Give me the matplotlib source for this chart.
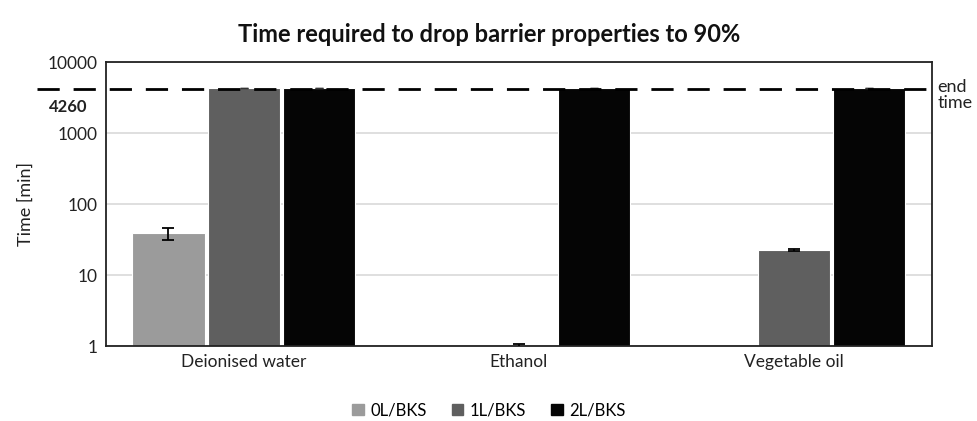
import numpy as np
import matplotlib
matplotlib.use('Agg')
import matplotlib.pyplot as plt
import matplotlib.transforms as mtransforms

plt.rcParams['font.family'] = ['Lato', 'DejaVu Sans']

# 데이터
media = ['Deionised water', 'Ethanol', 'Vegetable oil']
series = ['0L/BKS', '1L/BKS', '2L/BKS']
values = {
    '0L/BKS': [39, np.nan, np.nan],
    '1L/BKS': [4300, 1.0, 22.5],
    '2L/BKS': [4300, 4300, 4300],
}
errors = {
    '0L/BKS': [7.5, 0, 0],
    '1L/BKS': [25, 0.08, 0.5],
    '2L/BKS': [25, 25, 25],
}
colors = ['#9b9b9b', '#5f5f5f', '#050505']
endTime = 4260

fig = plt.figure(figsize=(9.78, 4.21), dpi=100)
ax = fig.add_axes([0.1084, 0.178, 0.8443, 0.674])

x = np.arange(len(media))
w = 0.262
step = 0.273
for i, s in enumerate(series):
    pos = x + (i - 1) * step
    v = np.array(values[s], dtype=float)
    ax.bar(pos, v, width=w, color=colors[i], edgecolor='white', linewidth=0.8, zorder=2)
    big = v > 1000
    # 큰 막대는 작은 캡만 보인다
    ax.errorbar(pos[big], v[big], yerr=np.array(errors[s])[big], fmt='none', ecolor='#333333',
                elinewidth=1.0, capsize=3, capthick=1.0, zorder=3)
    ax.errorbar(pos[~big], v[~big], yerr=np.array(errors[s])[~big], fmt='none', ecolor='black',
                elinewidth=1.3, capsize=4, capthick=1.3, zorder=3)

ax.set_yscale('log')
ax.set_ylim(1, 10000)
ax.set_xlim(-0.5, 2.5)
ax.set_yticks([1, 10, 100, 1000, 10000])
ax.set_yticklabels(['1', '10', '100', '1000', '10000'])
ax.yaxis.set_minor_locator(matplotlib.ticker.NullLocator())
ax.set_xticks(x)
ax.set_xticklabels(media)
ax.tick_params(axis='both', length=0, labelsize=12.5, colors='#222222', pad=6)
ax.grid(axis='y', color='#d9d9d9', linewidth=1.2, zorder=0)
ax.set_axisbelow(True)
for sp in ax.spines.values():
    sp.set_color('#222222')
    sp.set_linewidth(1.3)

ax.set_ylabel('Time [min]', fontsize=13, color='#222222', labelpad=10)

# 종료 시간 점선
trans = mtransforms.blended_transform_factory(ax.transAxes, ax.transData)
ax.plot([-0.083, 1.0], [endTime, endTime], transform=trans, color='black',
        linestyle=(0, (8, 5)), linewidth=2.0, clip_on=False, zorder=4)
ax.text(-0.022, endTime * 0.72, str(endTime), transform=trans, ha='right', va='top',
        fontsize=12, fontweight='bold', color='#222222')
ax.text(1.007, endTime * 0.82, 'end\ntime', transform=trans, ha='left', va='center',
        fontsize=13, color='#222222', linespacing=1.0)

fig.suptitle('Time required to drop barrier properties to 90%', y=0.945,
             fontsize=17, fontweight='bold', color='#111111')

handles = [plt.Rectangle((0, 0), 1, 1, color=c) for c in colors]
fig.legend(handles, series, loc='center', bbox_to_anchor=(0.5, 0.025), ncol=3,
           frameon=False, fontsize=12, handlelength=0.7, handleheight=0.7,
           handletextpad=0.4, columnspacing=1.5)

fig.savefig('out.png', dpi=100)
